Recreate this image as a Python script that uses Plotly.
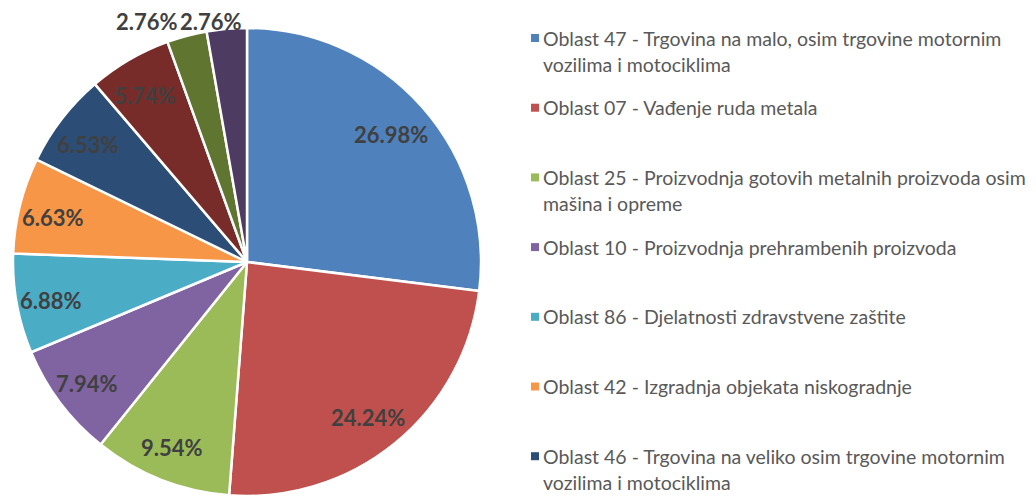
import math
import plotly.graph_objects as go

# ---- data ----
categories = [
    "Oblast 47 - Trgovina na malo, osim trgovine motornim vozilima i motociklima",
    "Oblast 07 - Vađenje ruda metala",
    "Oblast 25 - Proizvodnja gotovih metalnih proizvoda osim mašina i opreme",
    "Oblast 10 - Proizvodnja prehrambenih proizvoda",
    "Oblast 86 - Djelatnosti zdravstvene zaštite",
    "Oblast 42 - Izgradnja objekata niskogradnje",
    "Oblast 46 - Trgovina na veliko osim trgovine motornim vozilima i motociklima",
    "Oblast (8)",
    "Oblast (9)",
    "Oblast (10)",
]
shares = [26.98, 24.24, 9.54, 7.94, 6.88, 6.63, 6.53, 5.74, 2.76, 2.76]
legend_lines = [
    ["Oblast 47 - Trgovina na malo, osim trgovine motornim", "vozilima i motociklima"],
    ["Oblast 07 - Vađenje ruda metala"],
    ["Oblast 25 - Proizvodnja gotovih metalnih proizvoda osim", "mašina i opreme"],
    ["Oblast 10 - Proizvodnja prehrambenih proizvoda"],
    ["Oblast 86 - Djelatnosti zdravstvene zaštite"],
    ["Oblast 42 - Izgradnja objekata niskogradnje"],
    ["Oblast 46 - Trgovina na veliko osim trgovine motornim", "vozilima i motociklima"],
]
colors = ["#4F81BD", "#C0504D", "#9BBB59", "#8064A2", "#4BACC6", "#F79646",
          "#2C4D75", "#772C2A", "#5F7530", "#4D3B62"]
outside = [False] * 8 + [True] * 2

# ---- layout geometry (figure pixels) ----
W, H = 1020, 488
FONT = "Lato"
CX, R, TOP = 239, 234, 20
CY = TOP + R
LABEL_FONT = dict(family=FONT, size=22, color="#404040", weight="bold")

fig = go.Figure(go.Pie(
    labels=categories,
    values=shares,
    sort=False,
    direction="clockwise",
    rotation=0,
    marker=dict(colors=colors, line=dict(color="white", width=2.5)),
    textinfo="none",
    showlegend=False,
    hoverinfo="label+percent",
    domain=dict(x=[(CX - R) / W, (CX + R) / W], y=[1 - (TOP + 2 * R) / H, 1 - TOP / H]),
))

annotations = []
shapes = []


def px(x, y):
    return x / W, 1 - y / H


# data labels, placed along each slice's mid angle
total = sum(shares)
cum = 0.0
out_pos = []
for i, v in enumerate(shares):
    mid = (cum + v / 2) / total * 2 * math.pi
    cum += v
    if outside[i]:
        r = R + 16
        out_pos.append([CX + r * math.sin(mid), TOP - 6, i])
        continue
    r = 0.84 * R
    x, y = px(CX + r * math.sin(mid) - 3, CY - r * math.cos(mid) + 3)
    annotations.append(dict(x=x, y=y, xref="paper", yref="paper", showarrow=False,
                            xanchor="center", yanchor="middle",
                            text=f"{v:.2f}%", font=LABEL_FONT))
# outside labels share one row above the pie; keep them apart
out_pos.sort(key=lambda p: p[0])
for k in range(len(out_pos) - 2, -1, -1):
    out_pos[k][0] = min(out_pos[k][0], out_pos[k + 1][0] - 64)
for xo, yo, i in out_pos:
    x, y = px(xo - 14, yo)
    annotations.append(dict(x=x, y=y, xref="paper", yref="paper", showarrow=False,
                            xanchor="center", yanchor="middle",
                            text=f"{shares[i]:.2f}%", font=LABEL_FONT))

# legend (manual, to match the spacing of the original)
x_sq, x_txt, y0, step, line_h = 527, 533, 30, 69.7, 26
for i, lines in enumerate(legend_lines):
    yc = y0 + i * step
    x0, y0p = px(x_sq - 4, yc + 4)
    x1, y1p = px(x_sq + 4, yc - 4)
    shapes.append(dict(type="rect", xref="paper", yref="paper",
                       x0=x0, x1=x1, y0=y0p, y1=y1p,
                       fillcolor=colors[i], line=dict(width=0)))
    for j, ln in enumerate(lines):
        x, y = px(x_txt, yc + j * line_h)
        annotations.append(dict(
            x=x, y=y, xref="paper", yref="paper",
            xanchor="left", yanchor="middle", showarrow=False, text=ln,
            font=dict(family=FONT, size=19.5, color="#595959")))

fig.update_layout(
    width=W, height=H,
    margin=dict(l=0, r=0, t=0, b=0),
    paper_bgcolor="white",
    annotations=annotations,
    shapes=shapes,
)
fig.write_html("out.html")
